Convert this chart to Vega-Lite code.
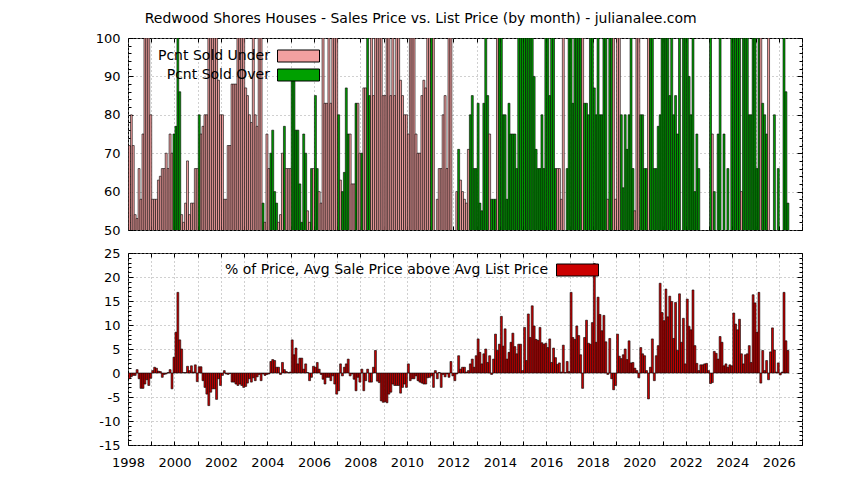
{
  "$schema": "https://vega.github.io/schema/vega-lite/v6.json",
  "background": "white",
  "padding": {"left": 94, "top": 11, "right": 5, "bottom": 5},
  "title": {"text": "Redwood Shores Houses - Sales Price vs. List Price (by month) - julianalee.com", "font": "DejaVu Sans", "fontSize": 14, "fontWeight": "normal", "color": "black", "anchor": "start", "frame": "bounds", "dx": 50, "offset": 6},
  "config": {
    "font": "DejaVu Sans",
    "view": {"stroke": "black", "strokeWidth": 1, "fill": null},
    "axis": {"domain": false, "labelFont": "DejaVu Sans", "labelFontSize": 13, "labelColor": "black", "tickColor": "black", "tickWidth": 1, "gridColor": "#a0a0a0", "gridDash": [1, 3], "gridWidth": 1, "gridOpacity": 1, "labelOverlap": false, "labelFlush": false}
  },
  "datasets": {
    "m": [
      {"d":"1998-01","p":72,"k":"U","v":-1.2},{"d":"1998-02","p":80,"k":"U","v":-0.8},{"d":"1998-03","p":72,"k":"U","v":-0.5},{"d":"1998-04","p":54,"k":"U","v":-0.5},
      {"d":"1998-05","p":53,"k":"U","v":0.7},{"d":"1998-06","p":66,"k":"U","v":-1.2},{"d":"1998-07","p":58,"k":"U","v":-3.2},{"d":"1998-08","p":75,"k":"U","v":-3.2},
      {"d":"1998-09","p":100,"k":"U","v":-2.3},{"d":"1998-10","p":100,"k":"U","v":-1.4},{"d":"1998-11","p":100,"k":"U","v":-2.6},{"d":"1998-12","p":80,"k":"U","v":-1.1},
      {"d":"1999-01","p":58,"k":"U","v":0.5},{"d":"1999-02","p":58,"k":"U","v":1.2},{"d":"1999-03","p":58,"k":"U","v":1.0},{"d":"1999-04","p":63,"k":"U","v":0.4},
      {"d":"1999-05","p":64,"k":"U","v":0.3},{"d":"1999-06","p":66,"k":"U","v":-0.9},{"d":"1999-07","p":66,"k":"U","v":-0.3},{"d":"1999-08","p":70,"k":"U","v":-0.2},
      {"d":"1999-09","p":66,"k":"U","v":0.1},{"d":"1999-10","p":75,"k":"U","v":0.7},{"d":"1999-11","p":70,"k":"U","v":-3.3},{"d":"1999-12","p":75,"k":"O","v":3.3},
      {"d":"2000-01","p":77,"k":"O","v":8.5},{"d":"2000-02","p":100,"k":"O","v":16.8},{"d":"2000-03","p":86,"k":"O","v":6.9},{"d":"2000-04","p":54,"k":"U","v":5.0},
      {"d":"2000-05","p":52,"k":"U","v":0.1},{"d":"2000-06","p":57,"k":"U","v":0.1},{"d":"2000-07","p":68,"k":"U","v":1.4},{"d":"2000-08","p":54,"k":"U","v":0.5},
      {"d":"2000-09","p":57,"k":"U","v":1.5},{"d":"2000-10","p":57,"k":"U","v":0.2},{"d":"2000-11","p":66,"k":"U","v":1.7},{"d":"2000-12","p":66,"k":"U","v":-1.8},
      {"d":"2001-01","p":80,"k":"O","v":1.3},{"d":"2001-02","p":75,"k":"U","v":1.3},{"d":"2001-03","p":77,"k":"U","v":-1.6},{"d":"2001-04","p":80,"k":"U","v":-3.0},
      {"d":"2001-05","p":80,"k":"U","v":-4.4},{"d":"2001-06","p":100,"k":"U","v":-6.8},{"d":"2001-07","p":100,"k":"U","v":-4.0},{"d":"2001-08","p":100,"k":"U","v":-3.3},
      {"d":"2001-09","p":100,"k":"U","v":-3.3},{"d":"2001-10","p":100,"k":"U","v":-5.5},{"d":"2001-11","p":89,"k":"U","v":-1.2},{"d":"2001-12","p":80,"k":"U","v":-2.6},
      {"d":"2002-01","p":80,"k":"U","v":-0.5},{"d":"2002-02","p":58,"k":"U","v":0.5},{"d":"2002-03","p":58,"k":"U","v":-0.2},{"d":"2002-04","p":72,"k":"U","v":-0.3},
      {"d":"2002-05","p":72,"k":"U","v":-0.1},{"d":"2002-06","p":88,"k":"U","v":-1.9},{"d":"2002-07","p":88,"k":"U","v":-1.9},{"d":"2002-08","p":88,"k":"U","v":-2.3},
      {"d":"2002-09","p":100,"k":"U","v":-2.6},{"d":"2002-10","p":100,"k":"U","v":-2.3},{"d":"2002-11","p":100,"k":"U","v":-2.6},{"d":"2002-12","p":100,"k":"U","v":-3.0},
      {"d":"2003-01","p":87,"k":"U","v":-2.8},{"d":"2003-02","p":85,"k":"U","v":-2.1},{"d":"2003-03","p":80,"k":"U","v":-1.2},{"d":"2003-04","p":78,"k":"U","v":-1.9},
      {"d":"2003-05","p":100,"k":"U","v":-1.0},{"d":"2003-06","p":80,"k":"U","v":-1.6},{"d":"2003-07","p":77,"k":"U","v":-0.8},{"d":"2003-08","p":100,"k":"U","v":-0.3},
      {"d":"2003-09","p":100,"k":"U","v":-1.6},{"d":"2003-10","p":57,"k":"O","v":-0.2},{"d":"2003-11","p":52,"k":"U","v":-0.5},{"d":"2003-12","p":75,"k":"U","v":-0.3},
      {"d":"2004-01","p":66,"k":"U","v":-0.2},{"d":"2004-02","p":70,"k":"O","v":2.4},{"d":"2004-03","p":76,"k":"O","v":2.8},{"d":"2004-04","p":60,"k":"O","v":2.6},
      {"d":"2004-05","p":57,"k":"O","v":1.2},{"d":"2004-06","p":52,"k":"U","v":1.2},{"d":"2004-07","p":54,"k":"U","v":-0.3},{"d":"2004-08","p":70,"k":"U","v":2.2},
      {"d":"2004-09","p":77,"k":"O","v":0.7},{"d":"2004-10","p":66,"k":"U","v":0.3},{"d":"2004-11","p":66,"k":"U","v":0.1},{"d":"2004-12","p":66,"k":"U","v":0.2},
      {"d":"2005-01","p":89,"k":"O","v":6.9},{"d":"2005-02","p":90,"k":"O","v":3.8},{"d":"2005-03","p":76,"k":"O","v":5.2},{"d":"2005-04","p":76,"k":"O","v":1.9},
      {"d":"2005-05","p":62,"k":"O","v":3.1},{"d":"2005-06","p":52,"k":"O","v":3.1},{"d":"2005-07","p":75,"k":"O","v":0.8},{"d":"2005-08","p":70,"k":"O","v":1.9},
      {"d":"2005-09","p":55,"k":"U","v":0.1},{"d":"2005-10","p":52,"k":"U","v":-1.6},{"d":"2005-11","p":66,"k":"O","v":-0.9},{"d":"2005-12","p":66,"k":"U","v":1.4},
      {"d":"2006-01","p":85,"k":"O","v":1.2},{"d":"2006-02","p":66,"k":"O","v":2.2},{"d":"2006-03","p":60,"k":"U","v":0.8},{"d":"2006-04","p":57,"k":"U","v":-0.3},
      {"d":"2006-05","p":100,"k":"U","v":-1.3},{"d":"2006-06","p":83,"k":"U","v":-2.3},{"d":"2006-07","p":83,"k":"U","v":-0.9},{"d":"2006-08","p":100,"k":"U","v":-0.9},
      {"d":"2006-09","p":83,"k":"U","v":-1.6},{"d":"2006-10","p":100,"k":"U","v":-0.6},{"d":"2006-11","p":100,"k":"U","v":-2.3},{"d":"2006-12","p":100,"k":"U","v":-4.4},
      {"d":"2007-01","p":80,"k":"O","v":-3.7},{"d":"2007-02","p":63,"k":"U","v":1.9},{"d":"2007-03","p":60,"k":"O","v":-0.6},{"d":"2007-04","p":65,"k":"O","v":1.2},
      {"d":"2007-05","p":87,"k":"O","v":1.9},{"d":"2007-06","p":75,"k":"O","v":2.9},{"d":"2007-07","p":75,"k":"U","v":-0.6},{"d":"2007-08","p":62,"k":"U","v":-0.2},
      {"d":"2007-09","p":62,"k":"U","v":-1.3},{"d":"2007-10","p":83,"k":"O","v":-3.7},{"d":"2007-11","p":83,"k":"U","v":-0.9},{"d":"2007-12","p":70,"k":"U","v":-1.9},
      {"d":"2008-01","p":70,"k":"O","v":0.8},{"d":"2008-02","p":87,"k":"U","v":-3.7},{"d":"2008-03","p":87,"k":"U","v":-1.6},{"d":"2008-04","p":100,"k":"O","v":0.8},
      {"d":"2008-05","p":85,"k":"O","v":-1.9},{"d":"2008-06","p":100,"k":"U","v":-1.9},{"d":"2008-07","p":85,"k":"U","v":1.2},{"d":"2008-08","p":100,"k":"U","v":4.7},
      {"d":"2008-09","p":100,"k":"U","v":-1.7},{"d":"2008-10","p":100,"k":"U","v":-2.0},{"d":"2008-11","p":100,"k":"U","v":-5.8},{"d":"2008-12","p":85,"k":"U","v":-6.1},
      {"d":"2009-01","p":85,"k":"U","v":-6.0},{"d":"2009-02","p":100,"k":"U","v":-6.2},{"d":"2009-03","p":100,"k":"U","v":-4.4},{"d":"2009-04","p":85,"k":"U","v":-4.0},
      {"d":"2009-05","p":100,"k":"U","v":-2.3},{"d":"2009-06","p":85,"k":"U","v":-2.6},{"d":"2009-07","p":100,"k":"U","v":-2.6},{"d":"2009-08","p":100,"k":"U","v":-2.6},
      {"d":"2009-09","p":89,"k":"U","v":-4.2},{"d":"2009-10","p":85,"k":"U","v":-3.0},{"d":"2009-11","p":80,"k":"U","v":-2.3},{"d":"2009-12","p":80,"k":"U","v":-3.0},
      {"d":"2010-01","p":75,"k":"U","v":1.9},{"d":"2010-02","p":100,"k":"U","v":-1.6},{"d":"2010-03","p":100,"k":"U","v":-1.2},{"d":"2010-04","p":100,"k":"U","v":-1.2},
      {"d":"2010-05","p":75,"k":"U","v":-0.6},{"d":"2010-06","p":70,"k":"U","v":-1.6},{"d":"2010-07","p":70,"k":"U","v":-1.9},{"d":"2010-08","p":85,"k":"U","v":-2.1},
      {"d":"2010-09","p":89,"k":"U","v":-2.3},{"d":"2010-10","p":87,"k":"U","v":-2.3},{"d":"2010-11","p":100,"k":"U","v":-1.0},{"d":"2010-12","p":100,"k":"U","v":-0.9},
      {"d":"2011-01","p":100,"k":"O","v":-0.6},{"d":"2011-02","p":100,"k":"U","v":-3.0},{"d":"2011-03","p":45,"k":"U","v":0.5},{"d":"2011-04","p":58,"k":"U","v":-1.2},
      {"d":"2011-05","p":66,"k":"U","v":0.1},{"d":"2011-06","p":66,"k":"U","v":-3.0},{"d":"2011-07","p":80,"k":"U","v":-0.3},{"d":"2011-08","p":85,"k":"U","v":-0.8},
      {"d":"2011-09","p":66,"k":"U","v":-0.2},{"d":"2011-10","p":100,"k":"U","v":-0.9},{"d":"2011-11","p":100,"k":"U","v":2.4},{"d":"2011-12","p":45,"k":"U","v":-0.6},
      {"d":"2012-01","p":45,"k":"U","v":-1.6},{"d":"2012-02","p":60,"k":"U","v":-0.2},{"d":"2012-03","p":71,"k":"O","v":3.6},{"d":"2012-04","p":63,"k":"U","v":0.8},
      {"d":"2012-05","p":60,"k":"U","v":1.2},{"d":"2012-06","p":58,"k":"U","v":1.2},{"d":"2012-07","p":57,"k":"U","v":0.2},{"d":"2012-08","p":71,"k":"U","v":0.5},
      {"d":"2012-09","p":80,"k":"O","v":1.9},{"d":"2012-10","p":85,"k":"O","v":2.9},{"d":"2012-11","p":66,"k":"O","v":1.2},{"d":"2012-12","p":66,"k":"O","v":3.6},
      {"d":"2013-01","p":83,"k":"O","v":7.1},{"d":"2013-02","p":57,"k":"O","v":4.3},{"d":"2013-03","p":55,"k":"O","v":1.9},{"d":"2013-04","p":83,"k":"O","v":4.0},
      {"d":"2013-05","p":100,"k":"O","v":5.0},{"d":"2013-06","p":85,"k":"O","v":2.2},{"d":"2013-07","p":75,"k":"U","v":3.6},{"d":"2013-08","p":58,"k":"O","v":-0.3},
      {"d":"2013-09","p":58,"k":"O","v":2.9},{"d":"2013-10","p":58,"k":"O","v":8.1},{"d":"2013-11","p":100,"k":"U","v":4.7},{"d":"2013-12","p":100,"k":"O","v":6.0},
      {"d":"2014-01","p":100,"k":"O","v":11.8},{"d":"2014-02","p":80,"k":"O","v":5.6},{"d":"2014-03","p":80,"k":"O","v":9.2},{"d":"2014-04","p":58,"k":"O","v":2.9},
      {"d":"2014-05","p":83,"k":"O","v":4.3},{"d":"2014-06","p":75,"k":"O","v":6.4},{"d":"2014-07","p":75,"k":"O","v":8.3},{"d":"2014-08","p":75,"k":"O","v":5.5},
      {"d":"2014-09","p":66,"k":"O","v":4.0},{"d":"2014-10","p":100,"k":"O","v":6.0},{"d":"2014-11","p":100,"k":"O","v":6.0},{"d":"2014-12","p":100,"k":"O","v":0.5},
      {"d":"2015-01","p":100,"k":"O","v":9.5},{"d":"2015-02","p":100,"k":"O","v":2.6},{"d":"2015-03","p":100,"k":"O","v":12.3},{"d":"2015-04","p":100,"k":"O","v":7.4},
      {"d":"2015-05","p":100,"k":"O","v":14.0},{"d":"2015-06","p":90,"k":"O","v":9.8},{"d":"2015-07","p":71,"k":"O","v":7.0},{"d":"2015-08","p":66,"k":"O","v":6.8},
      {"d":"2015-09","p":66,"k":"O","v":9.5},{"d":"2015-10","p":80,"k":"O","v":6.3},{"d":"2015-11","p":66,"k":"O","v":6.0},{"d":"2015-12","p":100,"k":"O","v":6.2},
      {"d":"2016-01","p":100,"k":"O","v":5.3},{"d":"2016-02","p":85,"k":"O","v":7.1},{"d":"2016-03","p":100,"k":"O","v":2.2},{"d":"2016-04","p":100,"k":"O","v":5.2},
      {"d":"2016-05","p":66,"k":"O","v":3.2},{"d":"2016-06","p":66,"k":"U","v":1.8},{"d":"2016-07","p":66,"k":"U","v":2.1},{"d":"2016-08","p":58,"k":"U","v":0.2},
      {"d":"2016-09","p":100,"k":"U","v":5.8},{"d":"2016-10","p":45,"k":"U","v":0.1},{"d":"2016-11","p":66,"k":"O","v":2.4},{"d":"2016-12","p":100,"k":"O","v":0.3},
      {"d":"2017-01","p":100,"k":"O","v":16.8},{"d":"2017-02","p":83,"k":"O","v":7.4},{"d":"2017-03","p":100,"k":"O","v":7.0},{"d":"2017-04","p":100,"k":"O","v":9.8},
      {"d":"2017-05","p":100,"k":"O","v":7.8},{"d":"2017-06","p":100,"k":"O","v":3.8},{"d":"2017-07","p":100,"k":"U","v":-3.2},{"d":"2017-08","p":83,"k":"O","v":7.4},
      {"d":"2017-09","p":83,"k":"O","v":11.0},{"d":"2017-10","p":80,"k":"O","v":6.2},{"d":"2017-11","p":100,"k":"O","v":6.0},{"d":"2017-12","p":100,"k":"O","v":10.5},
      {"d":"2018-01","p":87,"k":"O","v":22.8},{"d":"2018-02","p":80,"k":"O","v":6.4},{"d":"2018-03","p":100,"k":"O","v":15.8},{"d":"2018-04","p":80,"k":"O","v":12.2},
      {"d":"2018-05","p":80,"k":"O","v":8.8},{"d":"2018-06","p":100,"k":"O","v":12.0},{"d":"2018-07","p":100,"k":"O","v":6.5},{"d":"2018-08","p":58,"k":"U","v":-0.3},
      {"d":"2018-09","p":100,"k":"O","v":7.2},{"d":"2018-10","p":100,"k":"O","v":-1.2},{"d":"2018-11","p":100,"k":"U","v":-3.5},{"d":"2018-12","p":58,"k":"U","v":-2.6},
      {"d":"2019-01","p":100,"k":"U","v":8.1},{"d":"2019-02","p":100,"k":"U","v":3.5},{"d":"2019-03","p":80,"k":"O","v":3.0},{"d":"2019-04","p":61,"k":"O","v":3.8},
      {"d":"2019-05","p":80,"k":"O","v":5.0},{"d":"2019-06","p":71,"k":"O","v":2.8},{"d":"2019-07","p":80,"k":"O","v":6.7},{"d":"2019-08","p":100,"k":"O","v":2.1},
      {"d":"2019-09","p":66,"k":"O","v":2.2},{"d":"2019-10","p":55,"k":"U","v":1.0},{"d":"2019-11","p":100,"k":"U","v":0.5},{"d":"2019-12","p":100,"k":"U","v":-1.0},
      {"d":"2020-01","p":80,"k":"O","v":5.3},{"d":"2020-02","p":80,"k":"O","v":4.0},{"d":"2020-03","p":66,"k":"O","v":3.6},{"d":"2020-04","p":66,"k":"O","v":0.5},
      {"d":"2020-05","p":100,"k":"U","v":-5.4},{"d":"2020-06","p":100,"k":"O","v":1.2},{"d":"2020-07","p":100,"k":"O","v":7.1},{"d":"2020-08","p":66,"k":"O","v":-1.6},
      {"d":"2020-09","p":66,"k":"O","v":3.6},{"d":"2020-10","p":77,"k":"O","v":5.7},{"d":"2020-11","p":80,"k":"O","v":18.7},{"d":"2020-12","p":100,"k":"O","v":12.6},
      {"d":"2021-01","p":100,"k":"O","v":10.9},{"d":"2021-02","p":100,"k":"O","v":17.5},{"d":"2021-03","p":100,"k":"O","v":11.7},{"d":"2021-04","p":85,"k":"O","v":16.0},
      {"d":"2021-05","p":100,"k":"O","v":14.9},{"d":"2021-06","p":80,"k":"O","v":7.2},{"d":"2021-07","p":85,"k":"O","v":14.7},{"d":"2021-08","p":75,"k":"O","v":4.7},
      {"d":"2021-09","p":100,"k":"O","v":16.5},{"d":"2021-10","p":45,"k":"U","v":6.4},{"d":"2021-11","p":100,"k":"O","v":11.4},{"d":"2021-12","p":100,"k":"O","v":1.9},
      {"d":"2022-01","p":100,"k":"O","v":15.4},{"d":"2022-02","p":90,"k":"O","v":9.7},{"d":"2022-03","p":80,"k":"O","v":9.0},{"d":"2022-04","p":100,"k":"O","v":17.3},
      {"d":"2022-05","p":60,"k":"O","v":5.7},{"d":"2022-06","p":75,"k":"O","v":2.0},{"d":"2022-07","p":66,"k":"O","v":0.5},{"d":"2022-08","p":45,"k":"U","v":1.7},
      {"d":"2022-09","p":45,"k":"U","v":1.7},{"d":"2022-10","p":45,"k":"U","v":1.9},{"d":"2022-11","p":45,"k":"U","v":2.0},{"d":"2022-12","p":45,"k":"U","v":0.5},
      {"d":"2023-01","p":100,"k":"O","v":-2.2},{"d":"2023-02","p":75,"k":"U","v":-2.0},{"d":"2023-03","p":60,"k":"O","v":4.5},{"d":"2023-04","p":45,"k":"U","v":4.1},
      {"d":"2023-05","p":75,"k":"O","v":2.9},{"d":"2023-06","p":100,"k":"O","v":7.6},{"d":"2023-07","p":45,"k":"U","v":6.4},{"d":"2023-08","p":75,"k":"O","v":1.5},
      {"d":"2023-09","p":45,"k":"U","v":1.9},{"d":"2023-10","p":66,"k":"O","v":1.2},{"d":"2023-11","p":45,"k":"U","v":1.7},{"d":"2023-12","p":100,"k":"O","v":1.5},
      {"d":"2024-01","p":100,"k":"O","v":12.5},{"d":"2024-02","p":100,"k":"O","v":10.2},{"d":"2024-03","p":100,"k":"O","v":9.0},{"d":"2024-04","p":100,"k":"O","v":11.2},
      {"d":"2024-05","p":60,"k":"U","v":4.0},{"d":"2024-06","p":100,"k":"O","v":1.9},{"d":"2024-07","p":100,"k":"O","v":3.8},{"d":"2024-08","p":100,"k":"O","v":4.0},
      {"d":"2024-09","p":80,"k":"O","v":5.7},{"d":"2024-10","p":80,"k":"O","v":2.2},{"d":"2024-11","p":100,"k":"O","v":16.3},{"d":"2024-12","p":100,"k":"O","v":14.6},
      {"d":"2025-01","p":66,"k":"O","v":8.5},{"d":"2025-02","p":100,"k":"O","v":16.8},{"d":"2025-03","p":100,"k":"U","v":-2.1},{"d":"2025-04","p":83,"k":"O","v":4.7},
      {"d":"2025-05","p":80,"k":"O","v":0.5},{"d":"2025-06","p":75,"k":"O","v":2.6},{"d":"2025-07","p":100,"k":"U","v":-1.4},{"d":"2025-08","p":45,"k":"U","v":4.4},
      {"d":"2025-09","p":45,"k":"U","v":9.4},{"d":"2025-10","p":80,"k":"O","v":4.8},{"d":"2025-11","p":45,"k":"U","v":0.2},{"d":"2025-12","p":66,"k":"O","v":2.1},
      {"d":"2026-01","p":45,"k":"U","v":-0.4},{"d":"2026-02","p":45,"k":"U","v":0.2},{"d":"2026-03","p":100,"k":"O","v":16.8},{"d":"2026-04","p":86,"k":"O","v":6.7},
      {"d":"2026-05","p":57,"k":"O","v":4.7}
    ]
  },
  "data": {"name": "m"},
  "spacing": 8,
  "resolve": {"scale": {"x": "independent", "y": "independent", "color": "independent"}, "legend": {"color": "independent"}},
  "vconcat": [
    {
      "width": 674,
      "height": 192,
      "layer": [
        {
          "mark": {"type": "bar", "clip": true, "binSpacing": 0, "stroke": "black", "strokeWidth": 0.6},
          "encoding": {
            "x": {"field": "d", "timeUnit": "utcyearmonth", "type": "temporal",
              "scale": {"type": "utc", "domain": [{"year": 1998, "utc": true}, {"year": 2027, "utc": true}]},
              "axis": {"orient": "bottom", "title": null, "labels": false, "tickSize": -4, "grid": true,
                "values": [{"year":1998,"utc":true},{"year":1999,"utc":true},{"year":2000,"utc":true},{"year":2001,"utc":true},{"year":2002,"utc":true},{"year":2003,"utc":true},{"year":2004,"utc":true},{"year":2005,"utc":true},{"year":2006,"utc":true},{"year":2007,"utc":true},{"year":2008,"utc":true},{"year":2009,"utc":true},{"year":2010,"utc":true},{"year":2011,"utc":true},{"year":2012,"utc":true},{"year":2013,"utc":true},{"year":2014,"utc":true},{"year":2015,"utc":true},{"year":2016,"utc":true},{"year":2017,"utc":true},{"year":2018,"utc":true},{"year":2019,"utc":true},{"year":2020,"utc":true},{"year":2021,"utc":true},{"year":2022,"utc":true},{"year":2023,"utc":true},{"year":2024,"utc":true},{"year":2025,"utc":true},{"year":2026,"utc":true},{"year":2027,"utc":true}]}},
            "y": {"field": "p", "type": "quantitative", "scale": {"domain": [50, 100]},
              "axis": {"orient": "left", "title": null, "values": [50, 60, 70, 80, 90, 100], "tickSize": -5, "labelPadding": 13, "grid": true}},
            "color": {"field": "k", "type": "nominal",
              "scale": {"domain": ["U", "O"], "range": ["#f2a0a0", "#00a000"]},
              "legend": {"orient": "none", "legendX": 163.5, "legendY": 11, "direction": "vertical", "title": null, "padding": 0, "rowPadding": 3,
                "symbolType": "M-3.5,-1H3.5V1H-3.5Z", "symbolSize": 144, "symbolStrokeColor": "black", "symbolStrokeWidth": 1, "symbolOpacity": 1,
                "labelAlign": "right", "labelOffset": -35.5, "labelFont": "DejaVu Sans", "labelFontSize": 14, "labelColor": "black", "labelLimit": 0,
                "labelExpr": "datum.label == 'U' ? 'Pcnt Sold Under' : 'Pcnt Sold Over'"}}
          }
        },
        {
          "data": {"values": [{}]},
          "mark": {"type": "point", "opacity": 0},
          "encoding": {
            "x": {"datum": {"year": 2000, "utc": true}, "type": "temporal",
              "scale": {"type": "utc", "domain": [{"year": 1998, "utc": true}, {"year": 2027, "utc": true}]},
              "axis": {"orient": "top", "title": null, "labels": false, "tickSize": -4, "grid": false,
                "values": [{"year":1998,"utc":true},{"year":1999,"utc":true},{"year":2000,"utc":true},{"year":2001,"utc":true},{"year":2002,"utc":true},{"year":2003,"utc":true},{"year":2004,"utc":true},{"year":2005,"utc":true},{"year":2006,"utc":true},{"year":2007,"utc":true},{"year":2008,"utc":true},{"year":2009,"utc":true},{"year":2010,"utc":true},{"year":2011,"utc":true},{"year":2012,"utc":true},{"year":2013,"utc":true},{"year":2014,"utc":true},{"year":2015,"utc":true},{"year":2016,"utc":true},{"year":2017,"utc":true},{"year":2018,"utc":true},{"year":2019,"utc":true},{"year":2020,"utc":true},{"year":2021,"utc":true},{"year":2022,"utc":true},{"year":2023,"utc":true},{"year":2024,"utc":true},{"year":2025,"utc":true},{"year":2026,"utc":true},{"year":2027,"utc":true}]}},
            "y": {"datum": 60, "type": "quantitative", "scale": {"domain": [50, 100]},
              "axis": {"orient": "right", "title": null, "labels": false, "values": [50, 60, 70, 80, 90, 100], "tickSize": -5, "grid": false}}
          }
        },
        {
          "data": {"values": [{}]},
          "mark": {"type": "point", "opacity": 0},
          "encoding": {
            "y": {"datum": 60, "type": "quantitative", "scale": {"domain": [50, 100]},
              "axis": {"orient": "left", "title": null, "labels": false, "tickSize": -3, "grid": false,
                "values": [52, 54, 56, 58, 62, 64, 66, 68, 72, 74, 76, 78, 82, 84, 86, 88, 92, 94, 96, 98]}}
          }
        },
        {
          "data": {"values": [{}]},
          "mark": {"type": "point", "opacity": 0},
          "encoding": {
            "y": {"datum": 60, "type": "quantitative", "scale": {"domain": [50, 100]},
              "axis": {"orient": "right", "title": null, "labels": false, "tickSize": -3, "grid": false,
                "values": [52, 54, 56, 58, 62, 64, 66, 68, 72, 74, 76, 78, 82, 84, 86, 88, 92, 94, 96, 98]}}
          }
        }
      ],
      "resolve": {"axis": {"x": "independent", "y": "independent"}}
    },
    {
      "width": 674,
      "height": 192,
      "layer": [
        {
          "mark": {"type": "bar", "clip": true, "binSpacing": 0, "stroke": "black", "strokeWidth": 0.6},
          "encoding": {
            "x": {"field": "d", "timeUnit": "utcyearmonth", "type": "temporal",
              "scale": {"type": "utc", "domain": [{"year": 1998, "utc": true}, {"year": 2027, "utc": true}]},
              "axis": {"orient": "bottom", "title": null, "tickSize": -4, "grid": true, "labelPadding": 15, "format": "%Y",
                "labelExpr": "utcyear(datum.value) % 2 == 0 ? datum.label : ''",
                "values": [{"year":1998,"utc":true},{"year":1999,"utc":true},{"year":2000,"utc":true},{"year":2001,"utc":true},{"year":2002,"utc":true},{"year":2003,"utc":true},{"year":2004,"utc":true},{"year":2005,"utc":true},{"year":2006,"utc":true},{"year":2007,"utc":true},{"year":2008,"utc":true},{"year":2009,"utc":true},{"year":2010,"utc":true},{"year":2011,"utc":true},{"year":2012,"utc":true},{"year":2013,"utc":true},{"year":2014,"utc":true},{"year":2015,"utc":true},{"year":2016,"utc":true},{"year":2017,"utc":true},{"year":2018,"utc":true},{"year":2019,"utc":true},{"year":2020,"utc":true},{"year":2021,"utc":true},{"year":2022,"utc":true},{"year":2023,"utc":true},{"year":2024,"utc":true},{"year":2025,"utc":true},{"year":2026,"utc":true},{"year":2027,"utc":true}]}},
            "y": {"field": "v", "type": "quantitative", "scale": {"domain": [-15, 25]},
              "axis": {"orient": "left", "title": null, "values": [-15, -10, -5, 0, 5, 10, 15, 20, 25], "tickSize": -5, "labelPadding": 13, "grid": true,
                "labelExpr": "datum.value < 0 ? '-' + abs(datum.value) : '' + datum.value"}},
            "color": {"datum": "% of Price, Avg Sale Price above Avg List Price", "type": "nominal",
              "scale": {"range": ["#cc0000"]},
              "legend": {"orient": "none", "legendX": 442.5, "legendY": 10, "direction": "vertical", "title": null, "padding": 0, "rowPadding": 3,
                "symbolType": "M-3.5,-1H3.5V1H-3.5Z", "symbolSize": 144, "symbolStrokeColor": "black", "symbolStrokeWidth": 1, "symbolOpacity": 1,
                "labelAlign": "right", "labelOffset": -36.5, "labelFont": "DejaVu Sans", "labelFontSize": 14, "labelColor": "black", "labelLimit": 0}}
          }
        },
        {
          "data": {"values": [{}]},
          "mark": {"type": "point", "opacity": 0},
          "encoding": {
            "x": {"datum": {"year": 2000, "utc": true}, "type": "temporal",
              "scale": {"type": "utc", "domain": [{"year": 1998, "utc": true}, {"year": 2027, "utc": true}]},
              "axis": {"orient": "top", "title": null, "labels": false, "tickSize": -4, "grid": false,
                "values": [{"year":1998,"utc":true},{"year":1999,"utc":true},{"year":2000,"utc":true},{"year":2001,"utc":true},{"year":2002,"utc":true},{"year":2003,"utc":true},{"year":2004,"utc":true},{"year":2005,"utc":true},{"year":2006,"utc":true},{"year":2007,"utc":true},{"year":2008,"utc":true},{"year":2009,"utc":true},{"year":2010,"utc":true},{"year":2011,"utc":true},{"year":2012,"utc":true},{"year":2013,"utc":true},{"year":2014,"utc":true},{"year":2015,"utc":true},{"year":2016,"utc":true},{"year":2017,"utc":true},{"year":2018,"utc":true},{"year":2019,"utc":true},{"year":2020,"utc":true},{"year":2021,"utc":true},{"year":2022,"utc":true},{"year":2023,"utc":true},{"year":2024,"utc":true},{"year":2025,"utc":true},{"year":2026,"utc":true},{"year":2027,"utc":true}]}},
            "y": {"datum": 0, "type": "quantitative", "scale": {"domain": [-15, 25]},
              "axis": {"orient": "right", "title": null, "labels": false, "values": [-15, -10, -5, 0, 5, 10, 15, 20, 25], "tickSize": -5, "grid": false}}
          }
        },
        {
          "data": {"values": [{}]},
          "mark": {"type": "point", "opacity": 0},
          "encoding": {
            "y": {"datum": 0, "type": "quantitative", "scale": {"domain": [-15, 25]},
              "axis": {"orient": "left", "title": null, "labels": false, "tickSize": -3, "grid": false,
                "values": [-14, -13, -12, -11, -9, -8, -7, -6, -4, -3, -2, -1, 1, 2, 3, 4, 6, 7, 8, 9, 11, 12, 13, 14, 16, 17, 18, 19, 21, 22, 23, 24]}}
          }
        },
        {
          "data": {"values": [{}]},
          "mark": {"type": "point", "opacity": 0},
          "encoding": {
            "y": {"datum": 0, "type": "quantitative", "scale": {"domain": [-15, 25]},
              "axis": {"orient": "right", "title": null, "labels": false, "tickSize": -3, "grid": false,
                "values": [-14, -13, -12, -11, -9, -8, -7, -6, -4, -3, -2, -1, 1, 2, 3, 4, 6, 7, 8, 9, 11, 12, 13, 14, 16, 17, 18, 19, 21, 22, 23, 24]}}
          }
        }
      ],
      "resolve": {"axis": {"x": "independent", "y": "independent"}}
    }
  ]
}
